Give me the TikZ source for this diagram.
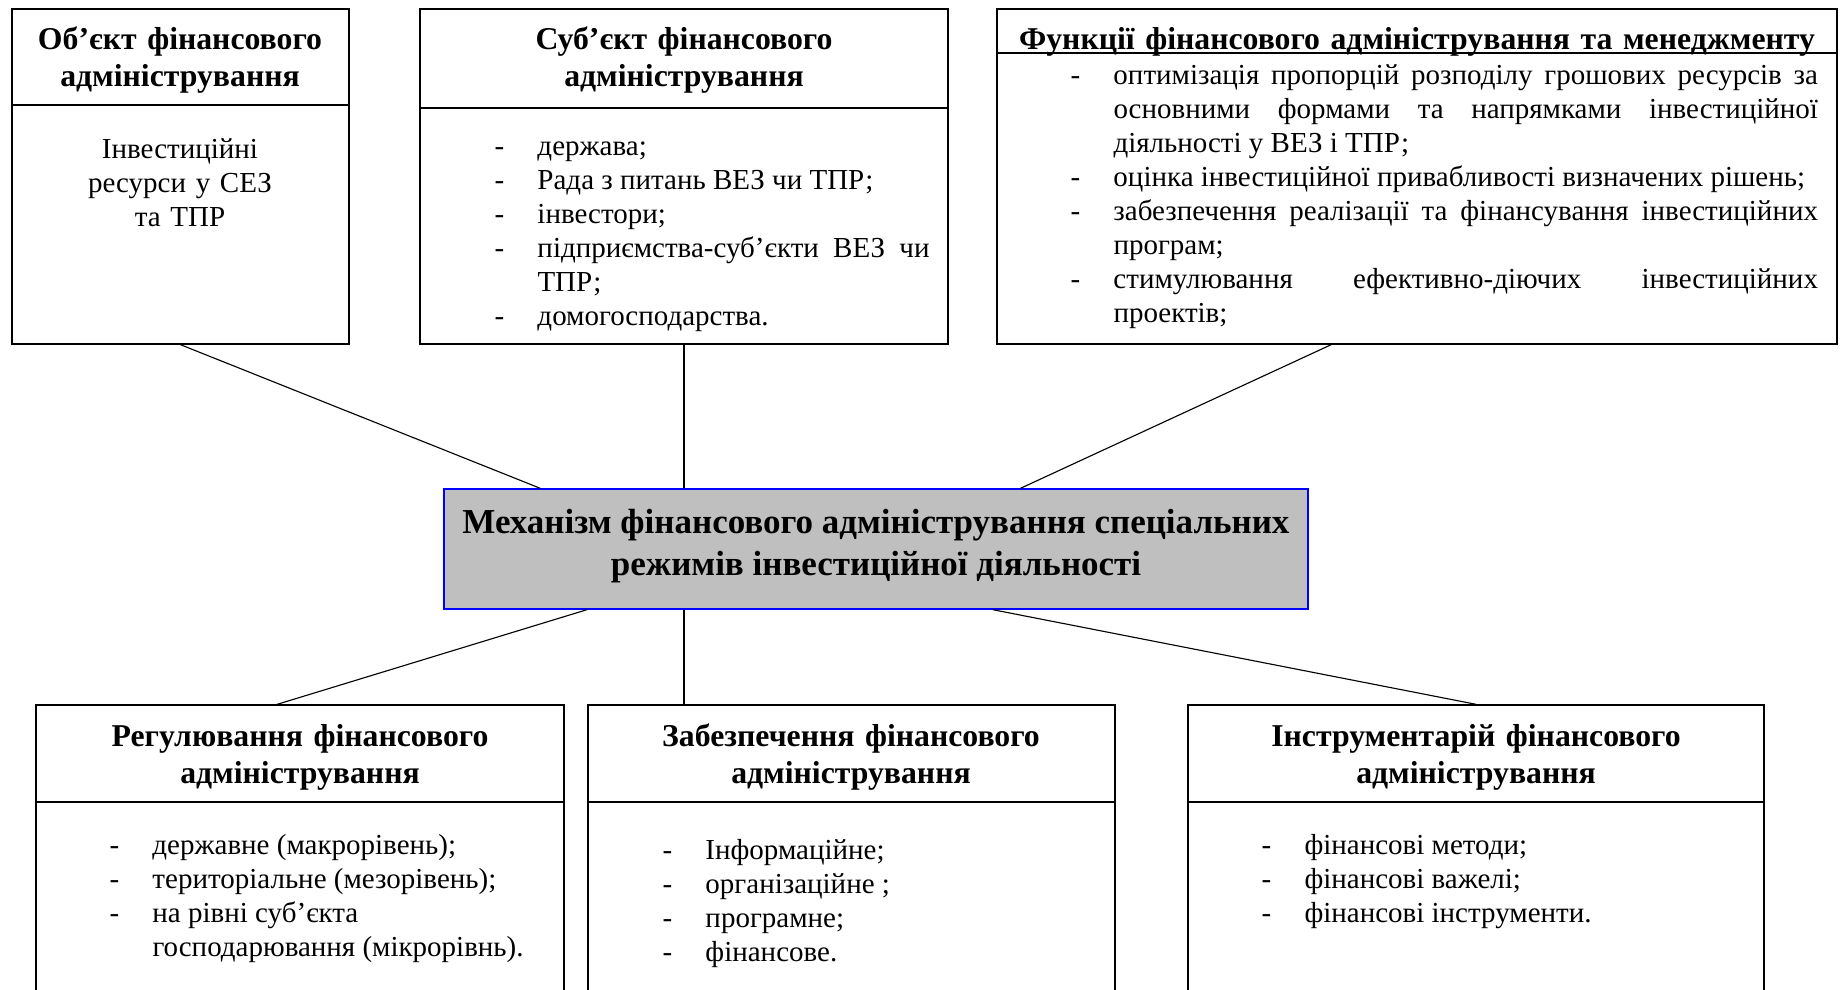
\documentclass[tikz,border=0pt]{standalone}
\usepackage{fontspec}
\setmainfont{Liberation Serif}
\usetikzlibrary{positioning,fit,calc}

\newcommand{\dashitem}[1]{\noindent\hangindent=17.2pt\hangafter=1\makebox[17.2pt][l]{-}#1\par}
\hyphenpenalty=10000
\exhyphenpenalty=10000

\begin{document}
\begin{tikzpicture}[
x=0.4pt, y=-0.4pt,
box/.style={draw, line width=0.55pt, inner sep=0pt},
mainbox/.style={draw=blue, fill=gray!50, line width=0.55pt, inner sep=0pt},
rule/.style={line width=0.55pt},
link/.style={line width=0.45pt},
headtext/.style={font=\fontsize{12.7}{14.8}\selectfont\bfseries, align=center, text width=#1, inner sep=0pt},
bodytext/.style={font=\fontsize{11.6}{13.6}\selectfont, align=justify, text width=#1, inner sep=0pt, anchor=base west},
centertext/.style={font=\fontsize{11.6}{13.6}\selectfont, align=center, text width=#1, inner sep=0pt, anchor=base}
]
    \useasboundingbox (0,0) rectangle (1843,990);
    \clip (0,0) rectangle (1843,990);

    % Upper boxes
    \node[box, fit={(12,9) (349,344)}] (object) {};
    \node[box, fit={(420,9) (948,344)}] (subject) {};
    \node[box, fit={(997,9) (1837,344)}] (functions) {};
    \draw[rule] (12,105) -- (349,105);
    \draw[rule] (420,108) -- (948,108);
    \draw[rule] (997,53) -- (1837,53);

    \node[headtext=130pt] (objecthead) at (180,60.5) {Об’єкт фінансового\\адміністрування};
    \node[headtext=200pt] (subjecthead) at (684,60.5) {Суб’єкт фінансового\\адміністрування};
    \node[headtext=336pt] (functionshead) at (1417,41.5) {Функції фінансового адміністрування та менеджменту};

    \node[centertext=130pt] (objectbody) at (180,158.5) {Інвестиційні\\ресурси у СЕЗ\\та ТПР};
    \node[bodytext=174pt] (subjectbody) at (494,155.5) {%
        \dashitem{держава;}
        \dashitem{Рада з питань ВЕЗ чи ТПР;}
        \dashitem{інвестори;}
        \dashitem{підприємства-суб’єкти ВЕЗ чи\linebreak ТПР;}
        \dashitem{домогосподарства.}};
    \node[bodytext=299pt] (functionsbody) at (1070,84.5) {%
        \dashitem{оптимізація пропорцій розподілу грошових ресурсів за\linebreak основними формами та напрямками інвестиційної\linebreak діяльності у ВЕЗ і ТПР;}
        \dashitem{оцінка інвестиційної привабливості визначених рішень;}
        \dashitem{забезпечення реалізації та фінансування інвестиційних\linebreak програм;}
        \dashitem{стимулювання ефективно-діючих інвестиційних\linebreak проектів;}};

    % Central box
    \node[mainbox, fit={(444,489) (1308,609)}] (mechanism) {};
    \node[font=\fontsize{14}{16.8}\selectfont\bfseries, align=center] (mechanismtext) at (876,546.5)
        {Механізм фінансового адміністрування спеціальних\\режимів інвестиційної діяльності};

    % Lower boxes
    \node[box, fit={(36,705) (564,1010)}] (regulation) {};
    \node[box, fit={(588,705) (1115,1010)}] (support) {};
    \node[box, fit={(1188,705) (1764,1010)}] (tools) {};
    \draw[rule] (36,802) -- (564,802);
    \draw[rule] (588,802) -- (1115,802);
    \draw[rule] (1188,802) -- (1764,802);

    \node[headtext=200pt] (regulationhead) at (300,757) {Регулювання фінансового\\адміністрування};
    \node[headtext=200pt] (supporthead) at (851,757) {Забезпечення фінансового\\адміністрування};
    \node[headtext=220pt] (toolshead) at (1476,757) {Інструментарій фінансового\\адміністрування};

    \node[bodytext=174.4pt] (regulationbody) at (109,854.5) {%
        \dashitem{державне (макрорівень);}
        \dashitem{територіальне (мезорівень);}
        \dashitem{на рівні суб’єкта\newline господарювання (мікрорівнь).}};
    \node[bodytext=174.4pt] (supportbody) at (662,859.5) {%
        \dashitem{Інформаційне;}
        \dashitem{організаційне ;}
        \dashitem{програмне;}
        \dashitem{фінансове.}};
    \node[bodytext=200pt] (toolsbody) at (1261,854.5) {%
        \dashitem{фінансові методи;}
        \dashitem{фінансові важелі;}
        \dashitem{фінансові інструменти.}};

    % Connectors
    \draw[link] (object.south) -- ($(mechanism.north west)!0.112!(mechanism.north east)$);
    \draw[link] (subject.south) -- (subject.south |- mechanism.north);
    \draw[link] ($(functions.south west)!0.398!(functions.south east)$) -- ($(mechanism.north west)!0.667!(mechanism.north east)$);
    \draw[link] ($(mechanism.south west)!0.166!(mechanism.south east)$) -- ($(regulation.north west)!0.457!(regulation.north east)$);
    \draw[link] (mechanism.south -| subject.south) -- (support.north -| subject.south);
    \draw[link] ($(mechanism.south west)!0.635!(mechanism.south east)$) -- (tools.north);
\end{tikzpicture}
\end{document}
